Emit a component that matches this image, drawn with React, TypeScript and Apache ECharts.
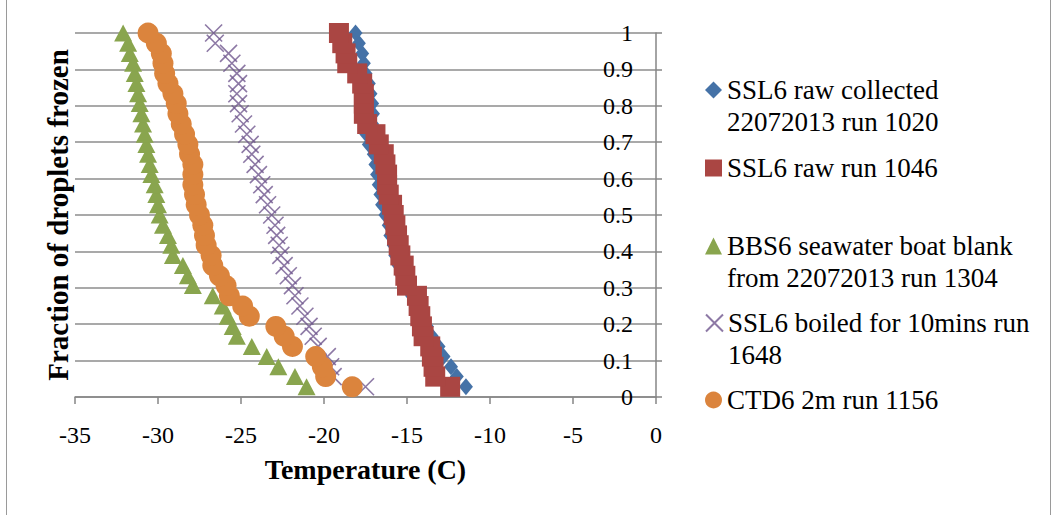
import React, { useEffect, useRef } from "react";
import * as echarts from "echarts";

const FONT = '"Liberation Serif", "Times New Roman", serif';

// Fraction of droplets frozen (shared y values)
const fractions = [
  0.028, 0.056, 0.083, 0.111, 0.139, 0.167, 0.194, 0.222, 0.25, 0.278, 0.306, 0.333,
  0.361, 0.389, 0.417, 0.444, 0.472, 0.5, 0.528, 0.556, 0.583, 0.611, 0.639, 0.667,
  0.694, 0.722, 0.75, 0.778, 0.806, 0.833, 0.861, 0.889, 0.917, 0.944, 0.972, 1,
];

// Temperatures (C) per series, same order as fractions
const ssl6Raw1020 = [
  -11.45, -12.0, -12.35, -12.8, -13.1, -13.5, -13.8, -14.1, -14.4, -14.7, -15.0, -15.3,
  -15.5, -15.7, -15.8, -16.0, -16.1, -16.3, -16.5, -16.6, -16.7, -16.8, -16.9, -17.0,
  -17.3, -17.45, -17.1, -17.05, -17.1, -17.2, -17.3, -17.5, -17.6, -17.7, -17.9, -18.1,
];
const ssl6Raw1046 = [
  -12.4, -13.3, -13.4, -13.5, -13.6, -14.0, -14.1, -14.2, -14.3, -14.4, -15.0, -15.1,
  -15.2, -15.4, -15.5, -15.6, -15.7, -15.8, -15.9, -16.1, -16.2, -16.2, -16.3, -16.4,
  -16.7, -16.9, -17.4, -17.6, -17.6, -17.6, -17.7, -18.0, -18.6, -18.7, -18.9, -19.1,
];
const bbs6Blank = [
  -21.05, -21.75, -22.75, -23.45, -24.35, -25.25, -25.5, -25.8, -26.1, -26.7, -27.9, -28.2,
  -28.5, -29.1, -29.2, -29.4, -29.7, -29.9, -30.0, -30.1, -30.2, -30.4, -30.5, -30.6,
  -30.7, -30.8, -30.9, -31.0, -31.1, -31.2, -31.3, -31.4, -31.5, -31.7, -31.8, -32.1,
];
const ssl6Boiled = [
  -17.5, -19.45, -19.6, -19.8, -20.35, -20.65, -20.9, -21.15, -21.45, -21.75, -21.9, -22.15,
  -22.4, -22.6, -22.7, -22.85, -22.95, -23.15, -23.4, -23.6, -23.75, -23.95, -24.15, -24.35,
  -24.45, -24.65, -24.85, -25.05, -25.15, -25.25, -25.15, -25.25, -25.55, -25.75, -26.55, -26.65,
];
const ctd6 = [
  -18.3, -19.9, -20.1, -20.5, -21.9, -22.4, -22.9, -24.5, -24.9, -25.7, -25.9, -26.3,
  -26.7, -26.8, -27.1, -27.2, -27.3, -27.5, -27.7, -27.8, -27.9, -27.9, -27.9, -28.1,
  -28.2, -28.4, -28.6, -28.8, -28.9, -29.1, -29.4, -29.6, -29.7, -29.8, -30.1, -30.6,
];

const seriesNames = [
  "SSL6 raw collected 22072013 run 1020",
  "SSL6 raw run 1046",
  "BBS6 seawater boat blank from 22072013 run 1304",
  "SSL6 boiled for 10mins run 1648",
  "CTD6 2m run 1156",
];
const legendLines = [
  ["SSL6 raw collected", "22072013 run 1020"],
  ["SSL6 raw run 1046"],
  ["BBS6 seawater boat blank", "from 22072013 run 1304"],
  ["SSL6 boiled for 10mins run", "1648"],
  ["CTD6 2m run 1156"],
];
const seriesValues = [ssl6Raw1020, ssl6Raw1046, bbs6Blank, ssl6Boiled, ctd6];
const colors = ["#4572A7", "#AA4643", "#89A54E", "#71588F", "#DB843D"];
const xTicks = { min: -35, max: 0, step: 5 };
const yTicks = { min: 0, max: 1, step: 0.1 };
const xTitle = "Temperature (C)";
const yTitle = "Fraction of droplets frozen";

const CROSS = "path://M0,0L10,10M10,0L0,10";

export default function App() {
  const ref = useRef<HTMLDivElement>(null);
  useEffect(() => {
    if (!ref.current) return;
    const chart = echarts.init(ref.current, undefined, { renderer: "svg" });
    const gray = "#868686";
    const symbols: any[] = [
      { symbol: "diamond", symbolSize: [14, 17] },
      { symbol: "rect", symbolSize: 20 },
      { symbol: "triangle", symbolSize: [18, 17] },
      { symbol: CROSS, symbolSize: 17 },
      { symbol: "circle", symbolSize: 21 },
    ];
    const series = seriesValues.map((vals, i) => ({
      type: "scatter",
      name: seriesNames[i],
      data: vals.map((x, k) => [x, fractions[k]]),
      symbol: symbols[i].symbol,
      symbolSize: symbols[i].symbolSize,
      itemStyle:
        i === 3
          ? { color: "rgba(0,0,0,0)", borderColor: colors[i], borderWidth: 1.6 }
          : { color: colors[i], opacity: 1 },
      emphasis: { disabled: true },
      z: 2 + i,
    }));
    const iconCenters = [90, 168, 246, 323, 400];
    const legends = seriesNames.map((name, i) => {
      const two = legendLines[i].length > 1;
      return {
        data: [name],
        left: 705,
        top: iconCenters[i] - (two ? 48 : 16),
        orient: "vertical",
        padding: 0,
        itemWidth: 17,
        itemHeight: 17,
        selectedMode: false,
        // a leading empty line keeps the first text line level with the marker
        formatter: () => (two ? "\n" : "") + legendLines[i].join("\n"),
        textStyle: {
          fontFamily: FONT,
          fontSize: 27,
          color: "#000",
          lineHeight: 32,
        },
      };
    });
    chart.setOption({
      animation: false,
      backgroundColor: "#fff",
      color: colors,
      grid: { left: 75, right: 402, top: 33, bottom: 118, containLabel: false },
      xAxis: {
        type: "value",
        min: xTicks.min,
        max: xTicks.max,
        interval: xTicks.step,
        axisLine: { show: true, onZero: false, lineStyle: { color: gray, width: 1.5 } },
        axisTick: { show: true, length: 7, lineStyle: { color: gray, width: 1.5 } },
        axisLabel: { fontFamily: FONT, fontSize: 24, color: "#000", margin: 26 },
        splitLine: { show: false },
        name: xTitle,
        nameLocation: "middle",
        nameGap: 58,
        nameTextStyle: { fontFamily: FONT, fontSize: 28, fontWeight: "bold", color: "#000" },
      },
      yAxis: [
        {
          type: "value",
          position: "right",
          min: yTicks.min,
          max: yTicks.max,
          interval: yTicks.step,
          axisLine: { show: true, onZero: false, lineStyle: { color: gray, width: 1.5 } },
          axisTick: { show: true, inside: false, length: 6, lineStyle: { color: gray, width: 1.5 } },
          axisLabel: { inside: true, margin: 23, fontFamily: FONT, fontSize: 24, color: "#000" },
          splitLine: { show: true, lineStyle: { color: "#8c8c8c", width: 1.5 } },
        },
        {
          type: "value",
          position: "left",
          min: yTicks.min,
          max: yTicks.max,
          axisLine: { show: false, onZero: false },
          axisTick: { show: false },
          axisLabel: { show: false },
          splitLine: { show: false },
          name: yTitle,
          nameLocation: "middle",
          nameGap: 3,
          nameTextStyle: { fontFamily: FONT, fontSize: 29, fontWeight: "bold", color: "#000" },
        },
      ],
      legend: legends,
      graphic: [
        {
          type: "rect",
          silent: true,
          shape: { x: 6.5, y: -5, width: 1044, height: 530 },
          style: { fill: "none", stroke: "#9a9a9a", lineWidth: 1 },
        },
      ],
      series,
    });
    return () => chart.dispose();
  }, []);
  return (
    <div
      ref={ref}
      style={{ position: "absolute", left: 0, top: 0, width: 1058, height: 515, background: "#fff" }}
    />
  );
}
